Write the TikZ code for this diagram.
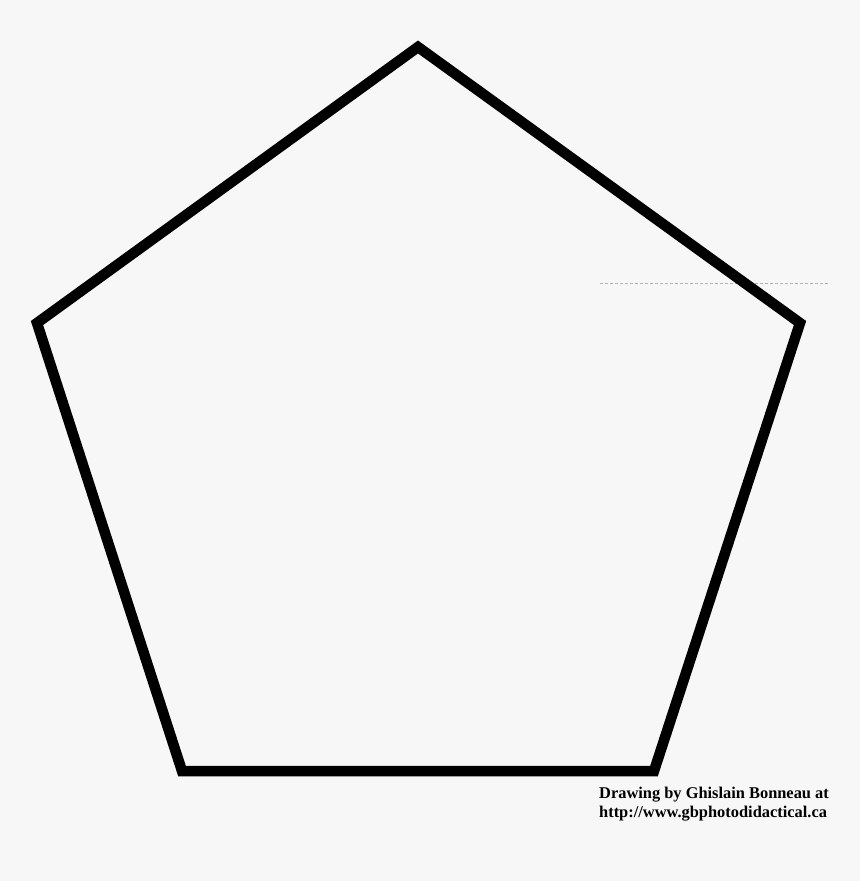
\documentclass[tikz,border=0pt]{standalone}
\usepackage{fontspec}
\setmainfont{Liberation Serif}
\definecolor{bg}{HTML}{F7F7F7}
\begin{document}
\begin{tikzpicture}[x=1pt,y=-1pt,
  edge/.style={line width=10.5pt,line join=miter,black},
  credit/.style={anchor=north west,inner sep=0pt,align=left,font=\fontsize{16.4}{18.5}\selectfont\bfseries}]
\fill[bg] (0,0) rectangle (860,881);
\useasboundingbox (0,0) rectangle (860,881);
\coordinate (T) at (418,47);
\coordinate (R) at (800,323);
\coordinate (BR) at (654,771);
\coordinate (BL) at (182,771);
\coordinate (L) at (37,323);
\coordinate (g1) at (600,283);
\coordinate (g2) at (830,283);
\draw[gray!60,line width=0.6pt,dash pattern=on 3pt off 2pt] (g1) -- (g2);
\draw[edge] (T) -- (R) -- (BR) -- (BL) -- (L) -- cycle;
\node[credit] (c) at (599,787) {Drawing by Ghislain Bonneau at\\http://www.gbphotodidactical.ca};
\end{tikzpicture}
\end{document}
